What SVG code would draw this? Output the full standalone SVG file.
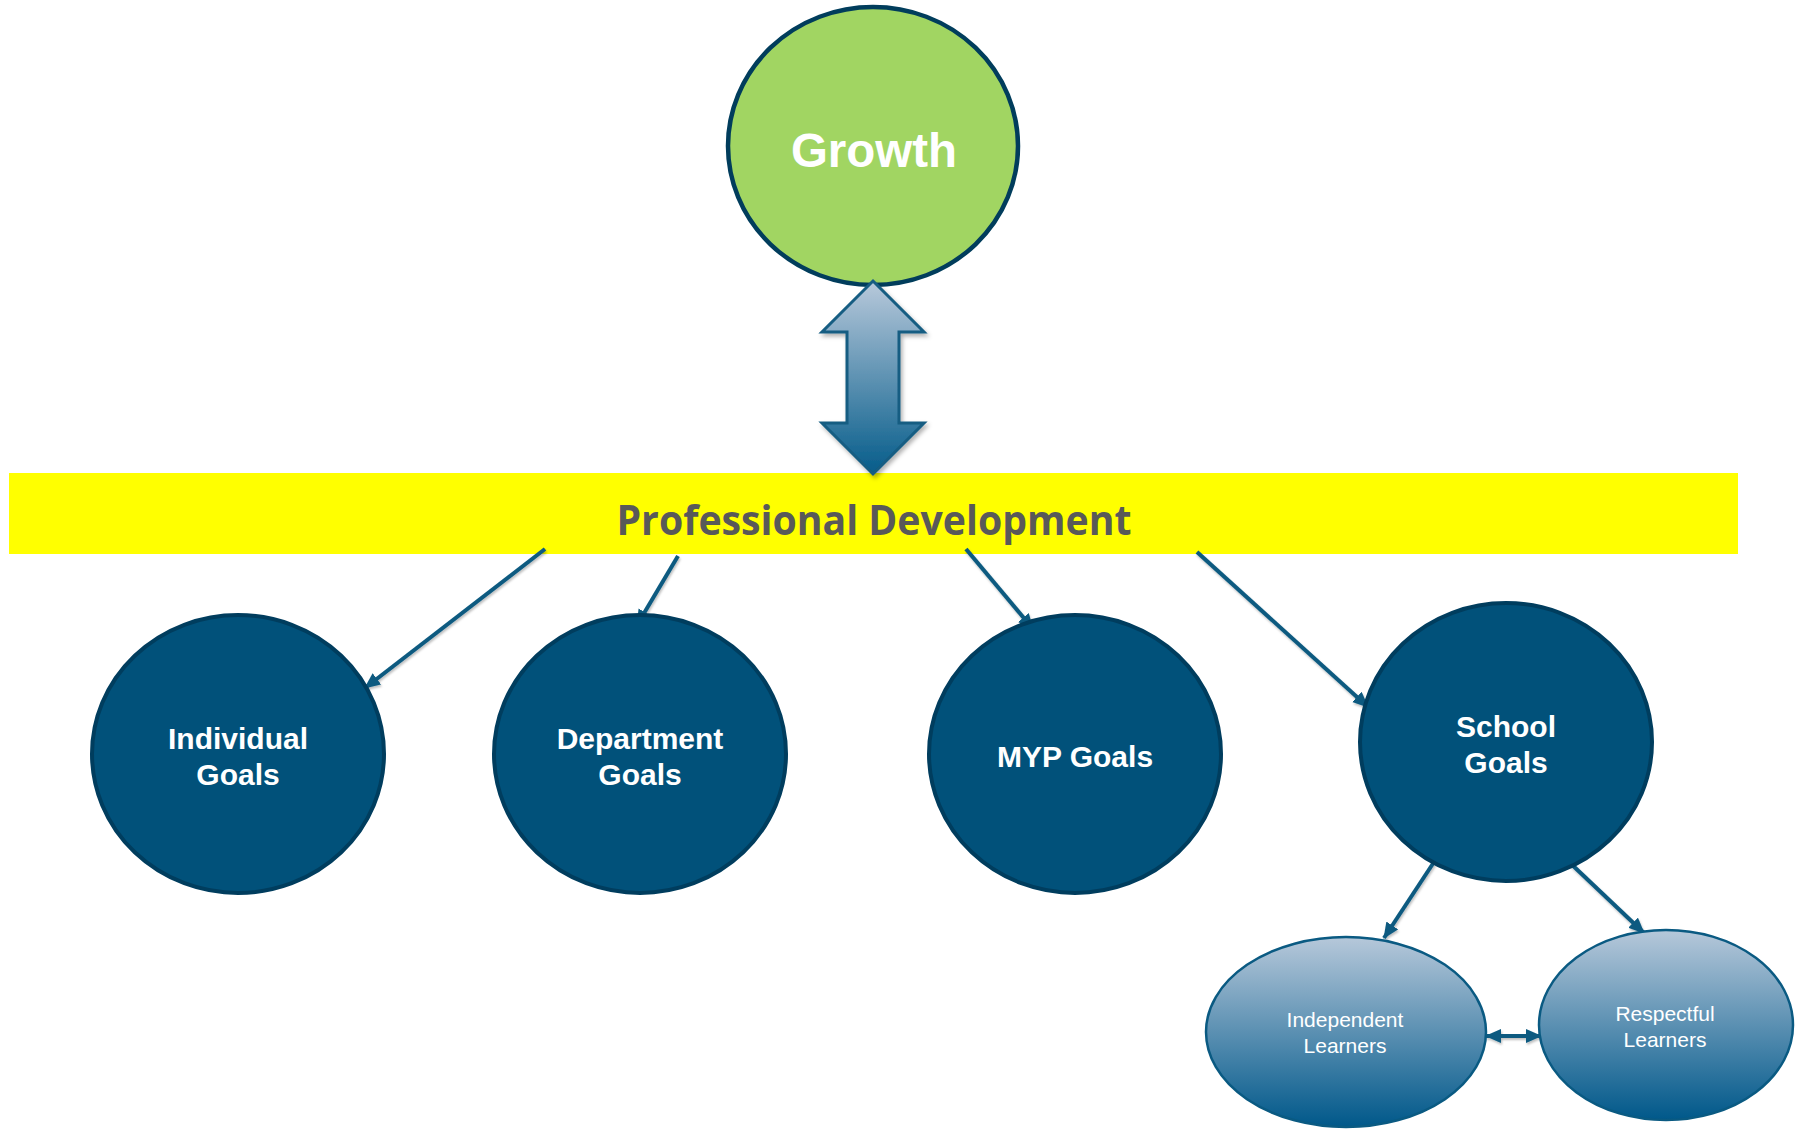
<svg xmlns="http://www.w3.org/2000/svg" width="1804" height="1129" viewBox="0 0 1804 1129">
<defs>
<style>
.goal{fill:#01517a;stroke:#003d5e;stroke-width:4}
.gt{font-family:"Liberation Sans",Arial,sans-serif;font-weight:bold;font-size:30px;fill:#fff;text-anchor:middle}
.sub{fill:url(#subg);stroke:#0a5a82;stroke-width:2.5}
.st{font-family:"Liberation Sans",Arial,sans-serif;font-size:21px;fill:#fff;text-anchor:middle}
.con{stroke:#0b5a80;stroke-width:4;fill:none}
</style>
<linearGradient id="subg" x1="0" y1="0" x2="0" y2="1">
<stop offset="0" stop-color="#b6c8da"/>
<stop offset="1" stop-color="#00588a"/>
</linearGradient>
<linearGradient id="arrg" x1="0" y1="0" x2="0" y2="1">
<stop offset="0" stop-color="#b8c9db"/>
<stop offset="1" stop-color="#055c8a"/>
</linearGradient>
<marker id="ah" markerUnits="userSpaceOnUse" markerWidth="18" markerHeight="16" refX="15" refY="7" orient="auto">
<path d="M0,0 L16,7 L0,14 z" fill="#0b5a80"/>
</marker>
<marker id="ahs" markerUnits="userSpaceOnUse" markerWidth="18" markerHeight="16" refX="15" refY="7" orient="auto-start-reverse">
<path d="M0,0 L16,7 L0,14 z" fill="#0b5a80"/>
</marker>
<filter id="sh" x="-20%" y="-20%" width="140%" height="140%">
<feDropShadow dx="2" dy="3" stdDeviation="2" flood-color="#000" flood-opacity="0.3"/>
</filter>
<filter id="lsh" x="-10%" y="-10%" width="120%" height="120%">
<feDropShadow dx="1" dy="2" stdDeviation="1" flood-color="#000" flood-opacity="0.25"/>
</filter>
</defs>

<g id="band">
<rect x="9" y="473" width="1729" height="81" fill="#ffff00"/>
<text x="874" y="535" font-family="'Open Sans','DejaVu Sans',sans-serif" font-weight="bold" font-size="42" fill="#595959" text-anchor="middle" textLength="515" lengthAdjust="spacingAndGlyphs">Professional Development</text>
</g>

<g id="growth">
<ellipse cx="873" cy="146" rx="145" ry="139" fill="#a1d562" stroke="#013d5c" stroke-width="4.5"/>
<text x="874" y="167" font-family="'Liberation Sans',Arial,sans-serif" font-weight="bold" font-size="47.5" fill="#fff" text-anchor="middle">Growth</text>
</g>

<g id="bigarrow">
<polygon points="873,281 924,332 899,332 899,423 924,423 873,474 822,423 847,423 847,332 822,332" fill="url(#arrg)" stroke="#155d82" stroke-width="3" stroke-linejoin="miter" filter="url(#sh)"/>
</g>

<g id="connectors" filter="url(#lsh)">
<line class="con" x1="545" y1="549" x2="365" y2="688" marker-end="url(#ah)"/>
<line class="con" x1="678" y1="556" x2="637" y2="625" marker-end="url(#ah)"/>
<line class="con" x1="966" y1="549" x2="1033" y2="629" marker-end="url(#ah)"/>
<line class="con" x1="1197" y1="552" x2="1368" y2="707" marker-end="url(#ah)"/>
<line class="con" x1="1434" y1="862" x2="1384" y2="938" marker-end="url(#ah)"/>
<line class="con" x1="1549" y1="843" x2="1644" y2="933" marker-end="url(#ah)"/>
<line class="con" x1="1486" y1="1036" x2="1541" y2="1036" marker-start="url(#ahs)" marker-end="url(#ahs)"/>
</g>

<g id="individual">
<ellipse class="goal" cx="238" cy="754" rx="146" ry="139"/>
<text class="gt" x="238" y="749">Individual</text>
<text class="gt" x="238" y="785">Goals</text>
</g>

<g id="department">
<ellipse class="goal" cx="640" cy="754" rx="146" ry="139"/>
<text class="gt" x="640" y="749">Department</text>
<text class="gt" x="640" y="785">Goals</text>
</g>

<g id="myp">
<ellipse class="goal" cx="1075" cy="754" rx="146" ry="139"/>
<text class="gt" x="1075" y="767">MYP Goals</text>
</g>

<g id="school">
<ellipse class="goal" cx="1506" cy="742" rx="146" ry="139"/>
<text class="gt" x="1506" y="737">School</text>
<text class="gt" x="1506" y="773">Goals</text>
</g>

<g id="independent">
<ellipse class="sub" cx="1346" cy="1032" rx="140" ry="95"/>
<text class="st" x="1345" y="1027">Independent</text>
<text class="st" x="1345" y="1053">Learners</text>
</g>

<g id="respectful">
<ellipse class="sub" cx="1666" cy="1025" rx="127" ry="95"/>
<text class="st" x="1665" y="1021">Respectful</text>
<text class="st" x="1665" y="1047">Learners</text>
</g>
</svg>
